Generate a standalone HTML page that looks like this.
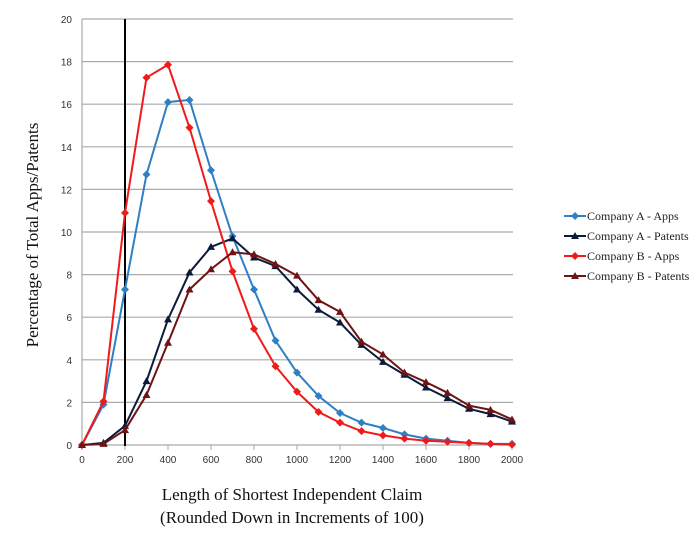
<!DOCTYPE html>
<html><head><style>body{margin:0;background:#fff}svg{display:block}</style></head>
<body>
<svg id="s" width="700" height="534" xmlns="http://www.w3.org/2000/svg" font-family="Liberation Sans, sans-serif">
<text x="38" y="235" transform="rotate(-90 38 235)" text-anchor="middle" font-family="Liberation Serif, serif" font-size="17" fill="#111">Percentage of Total Apps/Patents</text>
<text x="292" y="500" text-anchor="middle" font-family="Liberation Serif, serif" font-size="17" fill="#111">Length of Shortest Independent Claim</text>
<text x="292" y="523" text-anchor="middle" font-family="Liberation Serif, serif" font-size="17" fill="#111">(Rounded Down in Increments of 100)</text>
</svg>
<script>
const s=document.getElementById('s'),NS='http://www.w3.org/2000/svg';
const X=v=>82+v/2000*430, Y=v=>445-v*21.3;
function el(t,a,txt){const e=document.createElementNS(NS,t);for(const k in a)e.setAttribute(k,a[k]);if(txt!=null)e.textContent=txt;s.appendChild(e);return e;}
for(let i=0;i<=10;i++){const y=Y(i*2);el('line',{x1:82,x2:513,y1:y,y2:y,stroke:'#aaa','stroke-width':1.2});el('text',{x:72,y:y+4,'text-anchor':'end','font-size':10,fill:'#333'},i*2);}
el('line',{x1:82,x2:82,y1:19,y2:446,stroke:'#aaa','stroke-width':1.2});
for(let i=0;i<=10;i++){const x=X(i*200);el('line',{x1:x,x2:x,y1:445,y2:450,stroke:'#aaa'});el('text',{x:x,y:463,'text-anchor':'middle','font-size':10,fill:'#333'},i*200);}
el('line',{x1:X(200),x2:X(200),y1:19,y2:446,stroke:'#000','stroke-width':2});
const S=[
['#2e7fc4','d',[0,1.9,7.3,12.7,16.1,16.2,12.9,9.8,7.3,4.9,3.4,2.3,1.5,1.05,0.8,0.5,0.3,0.2,0.1,0.05,0.05]],
['#0d1a3a','t',[0,0.1,0.9,3.0,5.9,8.1,9.3,9.7,8.8,8.4,7.3,6.35,5.75,4.7,3.9,3.3,2.7,2.2,1.7,1.45,1.1]],
['#f01a1a','d',[0,2.05,10.9,17.25,17.85,14.9,11.45,8.15,5.45,3.7,2.5,1.55,1.05,0.65,0.45,0.3,0.2,0.15,0.1,0.05,0.02]],
['#6e1414','t',[0,0.05,0.7,2.35,4.8,7.3,8.25,9.05,8.95,8.5,7.95,6.8,6.25,4.85,4.25,3.4,2.95,2.45,1.85,1.65,1.2]]];
function mk(c,m,x,y){if(m=='d')el('path',{d:`M${x} ${y-4}L${x+4} ${y}L${x} ${y+4}L${x-4} ${y}Z`,fill:c});else el('path',{d:`M${x} ${y-4}L${x+4} ${y+3}L${x-4} ${y+3}Z`,fill:c});}
S.forEach(([c,m,d])=>{el('polyline',{points:d.map((v,i)=>X(i*100)+','+Y(v)).join(' '),fill:'none',stroke:c,'stroke-width':2});d.forEach((v,i)=>mk(c,m,X(i*100),Y(v)));});
const names=['Company A - Apps','Company A - Patents','Company B - Apps','Company B - Patents'];
S.forEach(([c,m],i)=>{const y=216+i*20;el('line',{x1:564,x2:586,y1:y,y2:y,stroke:c,'stroke-width':2});mk(c,m,575,y);el('text',{x:587,y:y+4,'font-family':'Liberation Serif, serif','font-size':12,fill:'#222'},names[i]);});
</script>
</body></html>
